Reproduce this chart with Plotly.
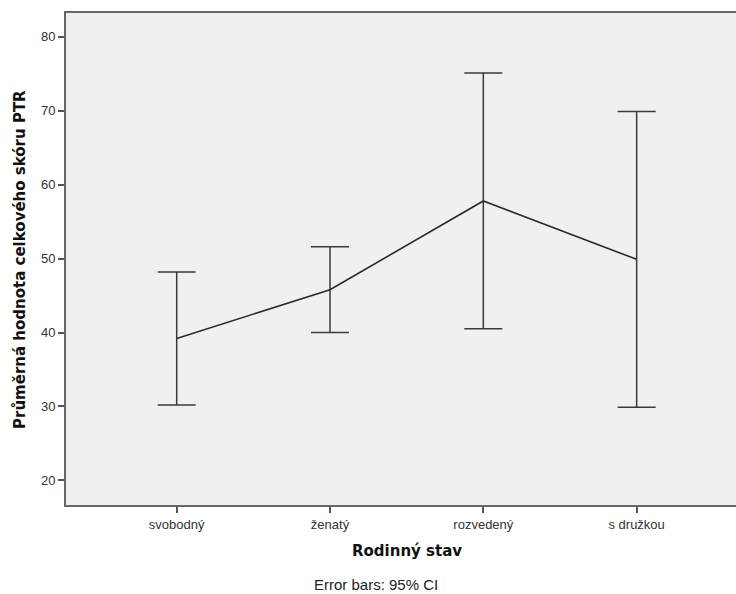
import plotly.graph_objects as go

categories = ["svobodný", "ženatý", "rozvedený", "s družkou"]
means = [39.2, 45.8, 57.8, 49.9]
ci_upper = [48.2, 51.6, 75.1, 69.9]
ci_lower = [30.2, 40.0, 40.5, 29.9]
y_ticks = [20, 30, 40, 50, 60, 70, 80]

x_pos = list(range(len(categories)))
err_plus = [u - m for u, m in zip(ci_upper, means)]
err_minus = [m - l for m, l in zip(means, ci_lower)]

fig = go.Figure()
fig.add_trace(go.Scatter(
    x=x_pos, y=means, mode="lines",
    line=dict(color="#2a2a2a", width=1.6),
    error_y=dict(type="data", symmetric=False, array=err_plus, arrayminus=err_minus,
                 color="#3a3a3a", thickness=1.5, width=19),
    showlegend=False, hoverinfo="skip",
))

axis_font = dict(family="Liberation Sans, Arial, sans-serif", size=13, color="#333333")

fig.update_layout(
    width=736, height=594,
    margin=dict(l=66, r=0, t=13, b=89),
    paper_bgcolor="white", plot_bgcolor="#f0f0f0",
    xaxis=dict(
        range=[-0.722, 3.648], tickmode="array", tickvals=x_pos, ticktext=categories,
        showgrid=False, zeroline=False, showline=True, linecolor="#666666", linewidth=2,
        mirror=True, ticks="outside", ticklen=6, tickwidth=1.5, tickcolor="#555555",
        tickfont=axis_font,
    ),
    yaxis=dict(
        range=[16.67, 83.23], tickmode="array", tickvals=y_ticks,
        ticktext=[str(v) for v in y_ticks],
        showgrid=False, zeroline=False, showline=True, linecolor="#666666", linewidth=2,
        ticks="outside", ticklen=6, tickwidth=1.5, tickcolor="#555555",
        tickfont=axis_font,
    ),
    annotations=[
        dict(text="<b>Průměrná hodnota celkového skóru PTR</b>", xref="paper", yref="paper",
             x=-0.0687, y=0.5, xanchor="center", yanchor="middle", textangle=-90,
             showarrow=False, font=dict(family="DejaVu Sans, sans-serif", size=15, color="#111111")),
        dict(text="<b>Rodinný stav</b>", xref="paper", yref="paper",
             x=0.509, y=-0.0935, xanchor="center", yanchor="middle",
             showarrow=False, font=dict(family="DejaVu Sans, sans-serif", size=15, color="#111111")),
        dict(text="Error bars: 95% CI", xref="paper", yref="paper",
             x=0.4634, y=-0.1626, xanchor="center", yanchor="middle",
             showarrow=False, font=dict(family="Liberation Sans, Arial, sans-serif", size=15, color="#222222")),
    ],
)

fig.write_html(
    "out.html",
    config={"displayModeBar": False},
    post_script="document.body.style.margin='0';document.body.style.overflow='hidden';",
)
